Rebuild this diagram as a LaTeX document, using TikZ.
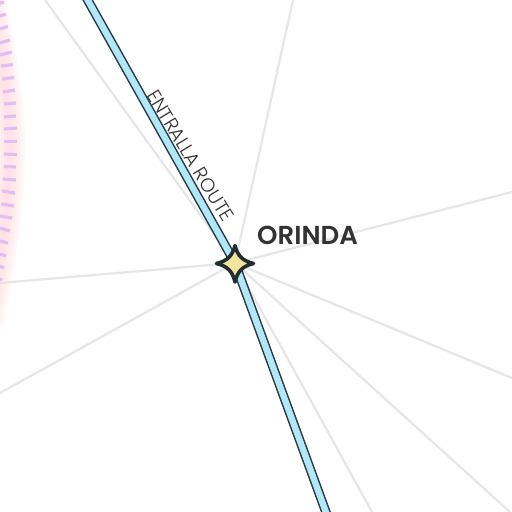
\documentclass[tikz,border=0pt]{standalone}
\usepackage{fontspec}
\setmainfont{Poppins}
\newfontfamily\labelfont{Poppins SemiBold}
\newfontfamily\routefont{Poppins Light}
\definecolor{road}{HTML}{E6E6E6}
\definecolor{routedark}{HTML}{2A3A42}
\definecolor{routefill}{HTML}{B0E8F9}
\definecolor{starfill}{HTML}{F1E69B}
\definecolor{stardark}{HTML}{252C30}
\definecolor{tick}{HTML}{E3BEF3}
\definecolor{glow}{HTML}{FFD3DA}
\definecolor{ink}{HTML}{333333}
\tikzset{
  roadline/.style={draw=road,line width=2.2pt},
  routeout/.style={draw=routedark,line width=9.4pt},
  routein/.style={draw=routefill,line width=6.4pt},
  ticklin/.style={draw=tick,line width=3.2pt},
  glowline/.style={draw=glow,opacity=0.11,line cap=round},
}
\begin{document}
\begin{tikzpicture}[x=1pt,y=-1pt]
\useasboundingbox (0,0) rectangle (512,512);
\clip (0,0) rectangle (512,512);
\fill[white] (0,0) rectangle (512,512);
% glow
\foreach \w in {4,8,12,16,20,24,28,32}{
  \draw[glowline,line width=\w pt] (-12,-10) .. controls (4,70) and (11,120) .. (9,160) .. controls (7,210) and (1,260) .. (-12,320);
}
% ticks
\foreach \xa/\ya/\xb/\yb in {0/3/4/2.5,0/16/6/14,0/29/8/26.5,0/43/10/40,0/55/12/52,1/66/13/64.5,2/79/14/77.5,3/92/15/90,4/104/16/103,4/117/16/116,4/129/17/128,4/141.5/17/141.5,4/154/17/154.5,4/166.5/16/167,3/179/16/180,2/191/15/193,1/204/14/206,0/216/12/218,0/228/10/231,0/241/8/243,0/254/6/256,0/266/4/268,0/279/2/280}{
  \draw[ticklin] (\xa,\ya) -- (\xb,\yb);
}
\coordinate (hub) at (235,263);
\coordinate (r1) at (45,0);
\coordinate (r2) at (293,0);
\coordinate (r3) at (512,192);
\coordinate (r4) at (512,378);
\coordinate (r5) at (510,512);
\coordinate (r6) at (372,512);
\coordinate (r7) at (0,393);
\coordinate (r8) at (0,283);
\coordinate (rtop) at (86,-3);
\coordinate (rbot) at (327,515);
\foreach \e in {r1,r2,r3,r4,r5,r6,r7,r8}{\draw[roadline] (hub) -- (\e);}
\draw[routeout] (rtop) -- (hub) -- (rbot);
\draw[routein] (rtop) -- (hub) -- (rbot);
% star
\draw[fill=starfill,draw=stardark,line width=3.6pt,line join=round]
  (235,245.5) .. controls (237.5,256) and (243,261) .. (253.5,263.5)
  .. controls (243,266) and (237.5,271) .. (235,282)
  .. controls (232.5,271) and (227,266) .. (216.5,263.5)
  .. controls (227,261) and (232.5,256) .. (235,245.5) -- cycle;
\node[anchor=west,inner sep=0pt,text=ink,font=\labelfont\fontsize{26}{26}\selectfont] (orinda) at (257,235) {ORINDA};
\node[rotate=-58.8,inner sep=0pt,text=ink,font=\routefont\fontsize{19.2}{19.2}\selectfont] (route) at (190.5,155.5) {ENTRALLA ROUTE};
\end{tikzpicture}
\end{document}
